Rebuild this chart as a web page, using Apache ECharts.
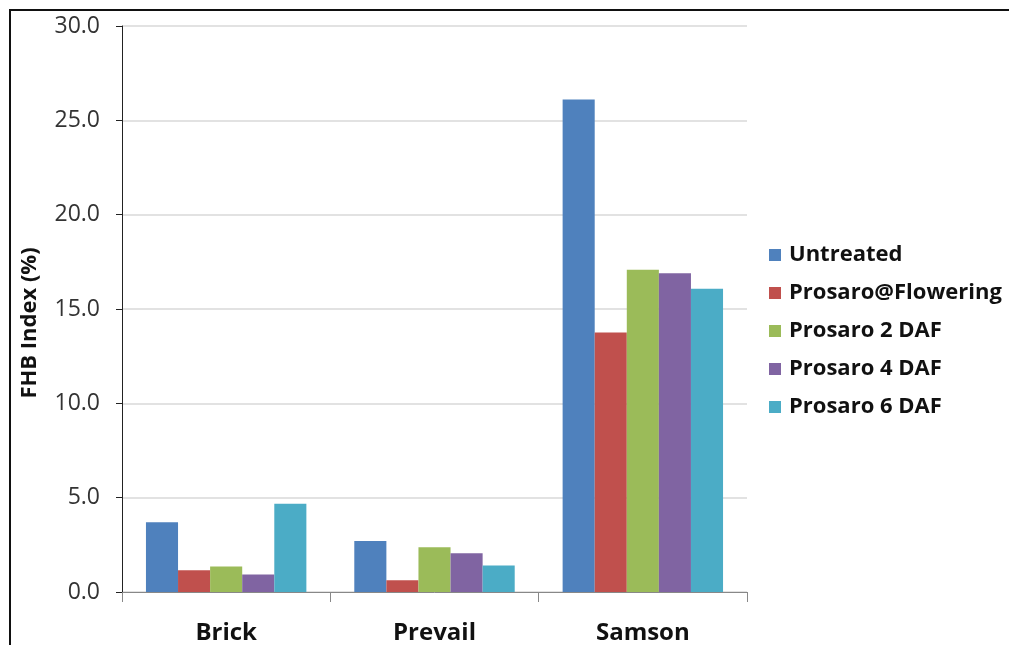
<!DOCTYPE html>
<html><head><meta charset="utf-8">
<script src="https://cdn.jsdelivr.net/npm/echarts@6/dist/echarts.min.js"></script>
<style>html,body{margin:0;padding:0;background:#fff}#c{width:1009px;height:645px}</style>
</head><body><div id="c"></div>
<script>
var categories = ['Brick', 'Prevail', 'Samson'];
var seriesNames = ['Untreated', 'Prosaro@Flowering', 'Prosaro 2 DAF', 'Prosaro 4 DAF', 'Prosaro 6 DAF'];
var untreated = [3.7, 2.7, 26.1];
var prosaroFlowering = [1.15, 0.62, 13.75];
var prosaro2DAF = [1.35, 2.37, 17.08];
var prosaro4DAF = [0.93, 2.05, 16.9];
var prosaro6DAF = [4.68, 1.41, 16.07];
var colors = ['#4F81BD', '#C0504D', '#9BBB59', '#8064A2', '#4BACC6'];
var font = '"Open Sans", Lato, sans-serif';
var allData = [untreated, prosaroFlowering, prosaro2DAF, prosaro4DAF, prosaro6DAF];

var chart = echarts.init(document.getElementById('c'));
chart.setOption({
  animation: false,
  color: colors,
  graphic: [{type: 'rect', shape: {x: 10, y: 10, width: 1100, height: 700}, style: {fill: 'none', stroke: '#111', lineWidth: 2}, silent: true}],
  grid: {left: 122, right: 262, top: 26, bottom: 53},
  legend: {
    orient: 'vertical', left: 764, top: 239, itemWidth: 12, itemHeight: 12, itemGap: 16, icon: 'rect',
    textStyle: {fontFamily: font, fontWeight: 'bold', fontSize: 22, color: '#111', padding: [0, 0, 0, 3]},
    data: seriesNames
  },
  xAxis: {
    type: 'category', data: categories,
    axisLine: {lineStyle: {color: '#888', width: 1}},
    axisTick: {show: true, length: 10, lineStyle: {color: '#888'}},
    axisLabel: {fontFamily: font, fontWeight: 'bold', fontSize: 24, color: '#111', margin: 29}
  },
  yAxis: {
    type: 'value', min: 0, max: 30, interval: 5,
    name: 'FHB Index (%)', nameLocation: 'middle', nameRotate: 90, nameGap: 81,
    nameTextStyle: {fontFamily: font, fontWeight: 'bold', fontSize: 22, color: '#111', padding: [0, 28, 0, 0]},
    axisLine: {show: true, lineStyle: {color: '#222', width: 1}},
    axisTick: {show: true, length: 6, lineStyle: {color: '#222'}},
    axisLabel: {fontFamily: font, fontSize: 23, color: '#333', margin: 22, formatter: function (v) { return v.toFixed(1); }},
    splitLine: {lineStyle: {color: '#d9d9d9', width: 1.5}}
  },
  series: seriesNames.map(function (n, i) {
    return {name: n, type: 'bar', data: allData[i], barGap: '0%', barCategoryGap: '23%', itemStyle: {color: colors[i]}};
  })
});
</script></body></html>
